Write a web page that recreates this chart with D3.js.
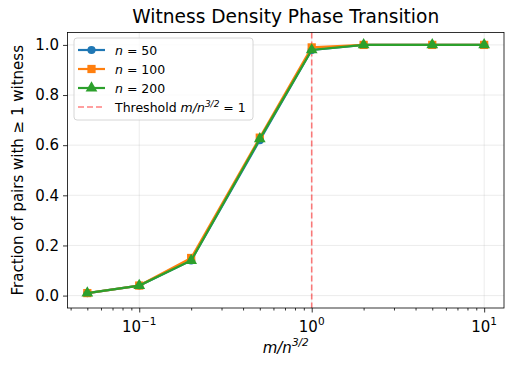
<!DOCTYPE html>
<html><head><meta charset="utf-8">
<script src="https://cdn.jsdelivr.net/npm/d3@7"></script>
<style>body{margin:0;background:#fff}svg{display:block;font-family:"DejaVu Sans",sans-serif}</style>
</head><body><svg id="c" width="515" height="368"></svg>
<script>
const xVals = [0.05, 0.1, 0.2, 0.5, 1, 2, 5, 10];
const n50 = [0.01, 0.04, 0.14, 0.62, 0.98, 1.0, 1.0, 1.0];
const n100 = [0.01, 0.04, 0.15, 0.63, 0.99, 1.0, 1.0, 1.0];
const n200 = [0.01, 0.04, 0.14, 0.625, 0.98, 1.0, 1.0, 1.0];
const seriesNames = ["n50", "n100", "n200"];
const seriesLabels = ["50", "100", "200"];
const yTicks = [0.0, 0.2, 0.4, 0.6, 0.8, 1.0];
const xMajor = [0.1, 1, 10];
const xMajorExp = ["−1", "0", "1"];
const threshold = 1;

const svg = d3.select("#c");
const L = 67.5, R = 504, T = 32.5, B = 308;
const x = d3.scaleLog().domain([Math.pow(10, -1.416), Math.pow(10, 1.115)]).range([L, R]);
const y = d3.scaleLinear().domain([-0.0495, 1.0495]).range([B, T]);
const FS = 15;

// grid
const g = svg.append("g");
xMajor.forEach(v => g.append("line").attr("x1", x(v)).attr("x2", x(v)).attr("y1", T).attr("y2", B).attr("stroke", "#b0b0b0").attr("stroke-opacity", 0.3).attr("stroke-width", 0.8));
yTicks.forEach(v => g.append("line").attr("x1", L).attr("x2", R).attr("y1", y(v)).attr("y2", y(v)).attr("stroke", "#b0b0b0").attr("stroke-opacity", 0.3).attr("stroke-width", 0.8));

// axes
const minor = [];
[0.01, 0.1, 1].forEach(d => { for (let k = 2; k <= 9; k++) { const v = d * k; if (v > x.domain()[0] && v < x.domain()[1]) minor.push(v); } });
const xAxis = svg.append("g").attr("transform", `translate(0,${B})`);
xAxis.call(d3.axisBottom(x).tickValues(xMajor).tickSize(4.5).tickFormat(() => ""));
xAxis.select(".domain").remove();
const xMin = svg.append("g").attr("transform", `translate(0,${B})`);
xMin.call(d3.axisBottom(x).tickValues(minor).tickSize(2.5).tickFormat(() => ""));
xMin.select(".domain").remove();
svg.selectAll(".tick line").attr("stroke", "#000").attr("stroke-width", 0.8);

xMajor.forEach((v, i) => {
  const t = svg.append("text").attr("x", x(v)).attr("y", B + 24).attr("text-anchor", "middle").attr("font-size", FS).attr("fill", "#000");
  t.append("tspan").text("10");
  t.append("tspan").attr("dy", -7).attr("font-size", 10.5).text(xMajorExp[i]);
});

const yAxis = svg.append("g").attr("transform", `translate(${L},0)`);
yAxis.call(d3.axisLeft(y).tickValues(yTicks).tickSize(4.5).tickPadding(4).tickFormat(d3.format(".1f")));
yAxis.select(".domain").remove();
yAxis.selectAll(".tick line").attr("stroke", "#000").attr("stroke-width", 0.8);
yAxis.selectAll(".tick text").attr("font-size", FS).attr("fill", "#000").attr("font-family", "DejaVu Sans");

// threshold
svg.append("line").attr("x1", x(threshold)).attr("x2", x(threshold)).attr("y1", T).attr("y2", B)
  .attr("stroke", "red").attr("stroke-opacity", 0.5).attr("stroke-width", 1.6).attr("stroke-dasharray", "6,3");

// series
const colors = ["#1f77b4", "#ff7f0e", "#2ca02c"];
const data = [n50, n100, n200];
const line = d3.line().x((d, i) => x(xVals[i])).y(d => y(d));
const sym = [d3.symbolCircle, d3.symbolSquare, d3.symbolTriangle];
const symSize = [52, 68, 60];
data.forEach((s, k) => {
  svg.append("path").attr("d", line(s)).attr("fill", "none").attr("stroke", colors[k]).attr("stroke-width", 2.2);
  svg.selectAll(null).data(s).enter().append("path")
    .attr("transform", (d, i) => `translate(${x(xVals[i])},${y(d)})`)
    .attr("d", d3.symbol().type(sym[k]).size(symSize[k])).attr("fill", colors[k]);
});

// spines
svg.append("rect").attr("x", L).attr("y", T).attr("width", R - L).attr("height", B - T).attr("fill", "none").attr("stroke", "#000").attr("stroke-width", 0.8);

// title & labels
svg.append("text").attr("x", (L + R) / 2).attr("y", 23).attr("text-anchor", "middle").attr("font-size", 18.6).text("Witness Density Phase Transition");
const xl = svg.append("text").attr("x", (L + R) / 2).attr("y", 353).attr("text-anchor", "middle").attr("font-size", FS);
xl.append("tspan").attr("font-style", "italic").text("m/n");
xl.append("tspan").attr("dy", -7).attr("font-size", 10.5).attr("font-style", "italic").text("3/2");
svg.append("text").attr("transform", `translate(23,${(T + B) / 2}) rotate(-90)`).attr("text-anchor", "middle").attr("font-size", FS)
  .text("Fraction of pairs with \u2265 1 witness");

// legend
const lg = svg.append("g");
lg.append("rect").attr("x", 74).attr("y", 38).attr("width", 179).attr("height", 82).attr("rx", 3)
  .attr("fill", "#fff").attr("fill-opacity", 0.8).attr("stroke", "#ccc").attr("stroke-width", 0.8);
const rows = [50, 69, 88, 107];
seriesNames.forEach((nm, k) => {
  const yy = rows[k];
  lg.append("line").attr("x1", 78).attr("x2", 105).attr("y1", yy).attr("y2", yy).attr("stroke", colors[k]).attr("stroke-width", 2.2);
  lg.append("path").attr("transform", `translate(91.5,${yy})`).attr("d", d3.symbol().type(sym[k]).size(symSize[k])).attr("fill", colors[k]);
  const t = lg.append("text").attr("x", 115).attr("y", yy + 4.5).attr("font-size", 12.5);
  t.append("tspan").attr("font-style", "italic").text("n");
  t.append("tspan").text(" = " + seriesLabels[k]);
});
lg.append("line").attr("x1", 78).attr("x2", 105).attr("y1", rows[3]).attr("y2", rows[3]).attr("stroke", "red").attr("stroke-opacity", 0.5).attr("stroke-width", 1.6).attr("stroke-dasharray", "6,3");
const tt = lg.append("text").attr("x", 115).attr("y", rows[3] + 4.5).attr("font-size", 12.5);
tt.append("tspan").text("Threshold ");
tt.append("tspan").attr("font-style", "italic").text("m/n");
tt.append("tspan").attr("dy", -5).attr("font-size", 9).attr("font-style", "italic").text("3/2");
tt.append("tspan").attr("dy", 5).text(" = 1");
</script></body></html>
